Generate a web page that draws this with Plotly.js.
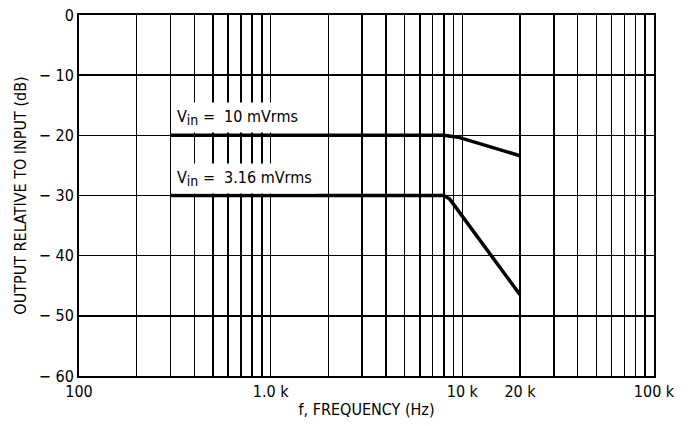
<!DOCTYPE html>
<html>
<head>
<meta charset="utf-8">
<script src="https://cdn.plot.ly/plotly-3.0.1.min.js"></script>
<style>html,body{margin:0;padding:0;background:#fff;}#chart{width:692px;height:426px;}</style>
</head>
<body>
<div id="chart"></div>
<script>
// Data
const freq10 = [300, 8000, 9500, 20000];
const gain10 = [-20, -20, -20.3, -23.4];
const freq316 = [300, 8000, 8600, 20000];
const gain316 = [-30, -30, -30.6, -46.5];
const label10 = 'V<sub><span style="font-size:14px">in</span></sub> =  10 mVrms';
const label316 = 'V<sub><span style="font-size:14px">in</span></sub> =  3.16 mVrms';

const xLabelVals = [100, 1000, 10000, 20000, 100000];
const xLabelText = ['100', '1.0 k', '10 k', '20 k', '100 k'];
const yTickVals = [-60, -50, -40, -30, -20, -10, 0];
const yTickText = ['\u2212 60', '\u2212 50', '\u2212 40', '\u2212 30', '\u2212 20', '\u2212 10', '0'];

// grid positions of a log decade scale
const gridVals = [];
[100, 1000, 10000].forEach(d => { for (let m = 1; m <= 9; m++) gridVals.push(d * m); });
gridVals.push(100000);
const gridText = gridVals.map(v => { const i = xLabelVals.indexOf(v); return i >= 0 ? xLabelText[i] : ''; });

const FONT = '"Liberation Sans Narrow", "DejaVu Sans Condensed", Arial, sans-serif';

const traces = [
  {x: freq10, y: gain10, mode: 'lines', line: {color: '#000', width: 3.5}, hoverinfo: 'skip', showlegend: false},
  {x: freq316, y: gain316, mode: 'lines', line: {color: '#000', width: 3.5}, hoverinfo: 'skip', showlegend: false}
];

const layout = {
  width: 692, height: 426,
  margin: {l: 79, r: 38, t: 15, b: 50},
  paper_bgcolor: '#fff', plot_bgcolor: '#fff',
  font: {family: FONT, size: 16, color: '#000'},
  showlegend: false,
  xaxis: {
    type: 'log', range: [2, 5],
    tickvals: gridVals, ticktext: gridText, tickangle: 0,
    ticks: '', showgrid: true, gridcolor: '#000', gridwidth: 1.5,
    showline: true, linecolor: '#000', linewidth: 2, mirror: true,
    zeroline: false, tickfont: {size: 16},
    title: {text: 'f, FREQUENCY (Hz)', font: {size: 16}, standoff: 4}
  },
  yaxis: {
    range: [-60, 0],
    tickvals: yTickVals, ticktext: yTickText,
    ticks: '', showgrid: true, gridcolor: '#000', gridwidth: 1.5,
    showline: true, linecolor: '#000', linewidth: 2, mirror: true,
    zeroline: false, tickfont: {size: 16},
    title: {text: 'OUTPUT RELATIVE TO INPUT (dB)', font: {size: 16}, standoff: 8}
  },
  annotations: [
    {x: Math.log10(freq10[0]), y: gain10[0], xref: 'x', yref: 'y', text: label10, showarrow: false,
     xanchor: 'left', yanchor: 'bottom', xshift: 2, yshift: 2, bgcolor: '#fff', borderpad: 4, font: {size: 16}},
    {x: Math.log10(freq316[0]), y: gain316[0], xref: 'x', yref: 'y', text: label316, showarrow: false,
     xanchor: 'left', yanchor: 'bottom', xshift: 2, yshift: 2, bgcolor: '#fff', borderpad: 4, font: {size: 16}}
  ]
};

Plotly.newPlot('chart', traces, layout, {staticPlot: true, displayModeBar: false});
</script>
</body>
</html>
